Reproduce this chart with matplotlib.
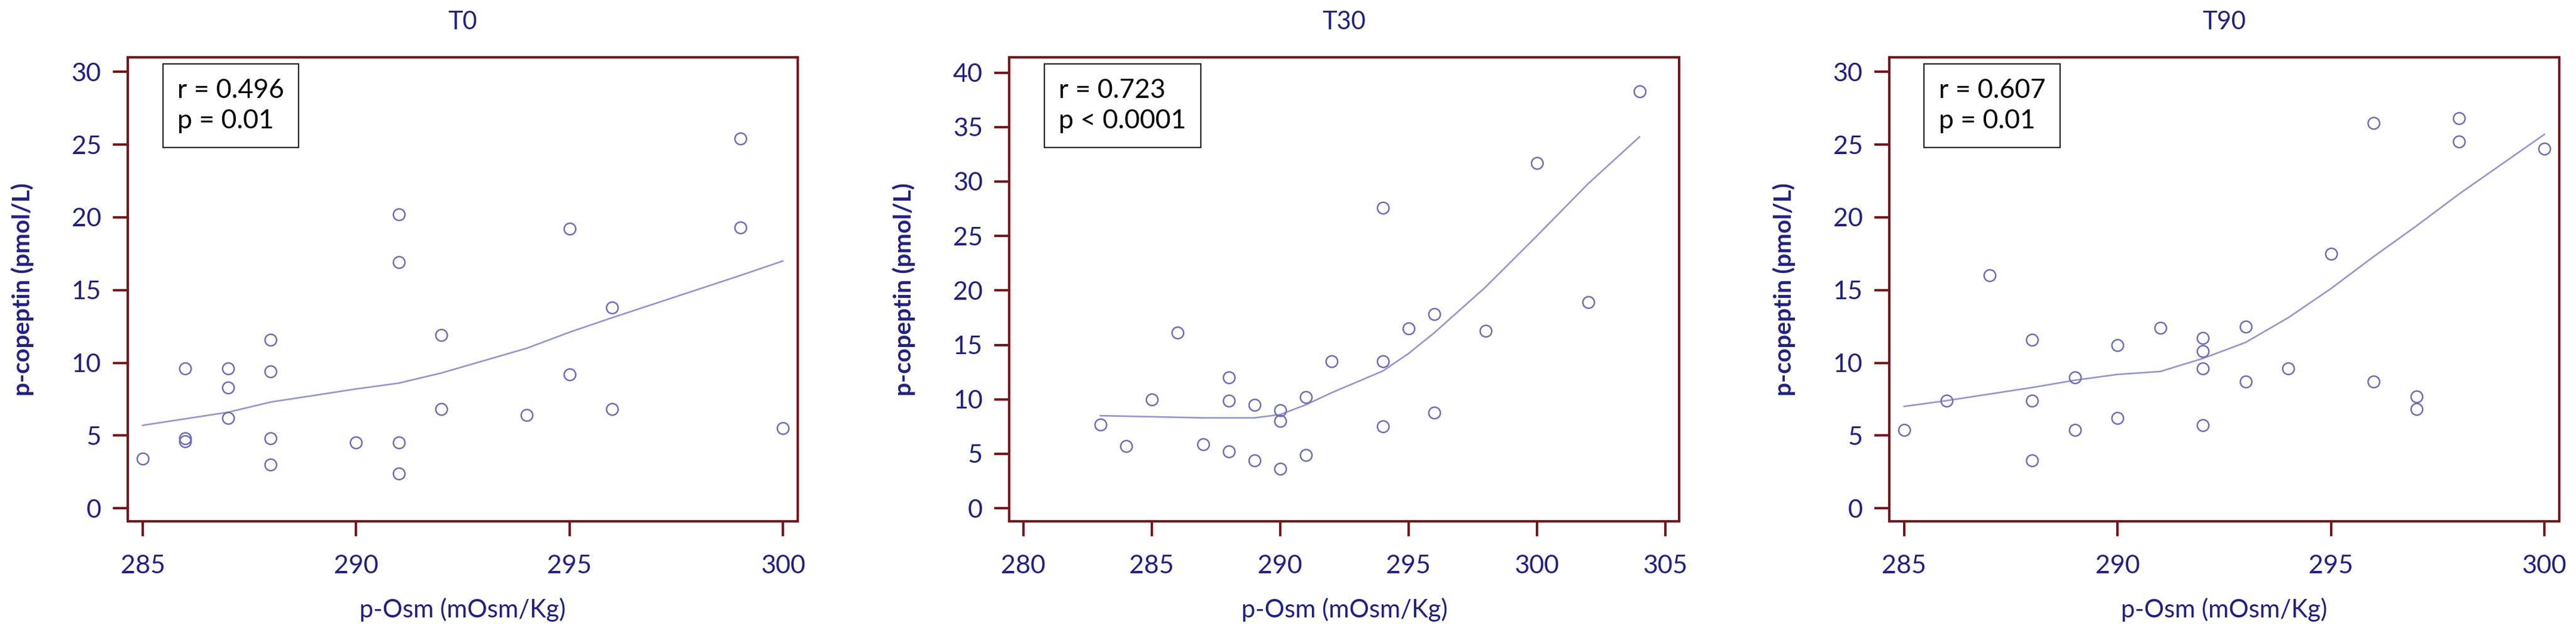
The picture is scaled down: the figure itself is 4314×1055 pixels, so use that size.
import numpy as np
import matplotlib
matplotlib.use("Agg")
import matplotlib.pyplot as plt

plt.rcParams['font.family'] = ['Lato', 'DejaVu Sans']

# ---- data ----
titles = ["T0", "T30", "T90"]
stats_text = ["r = 0.496\np = 0.01", "r = 0.723\np < 0.0001", "r = 0.607\np = 0.01"]

t0_x = [285, 286, 286, 286, 287, 287, 287, 288, 288, 288, 288, 290, 291, 291, 291, 291,
        292, 292, 294, 295, 295, 296, 296, 299, 299, 300]
t0_y = [3.4, 9.6, 4.8, 4.6, 9.6, 8.3, 6.2, 11.6, 9.4, 4.8, 3.0, 4.5, 20.2, 16.9, 4.5, 2.4,
        11.9, 6.8, 6.4, 19.2, 9.2, 13.8, 6.8, 25.4, 19.3, 5.5]
t0_fit_x = [285, 287, 288, 290, 291, 292, 294, 295, 296, 299, 300]
t0_fit_y = [5.7, 6.6, 7.3, 8.2, 8.6, 9.3, 11.0, 12.1, 13.1, 16.0, 17.0]

t30_x = [283, 284, 285, 286, 287, 288, 288, 288, 289, 289, 290, 290, 290, 291, 291,
         292, 294, 294, 294, 295, 296, 296, 298, 300, 302, 304]
t30_y = [7.7, 5.7, 10.0, 16.1, 5.9, 12.0, 9.9, 5.2, 9.5, 4.4, 9.0, 8.0, 3.6, 10.2, 4.9,
         13.5, 27.6, 13.5, 7.5, 16.5, 17.8, 8.8, 16.3, 31.7, 18.9, 38.3]
t30_fit_x = [283, 285, 287, 289, 290, 291, 292, 294, 295, 296, 298, 300, 302, 304]
t30_fit_y = [8.5, 8.4, 8.3, 8.3, 8.6, 9.5, 10.6, 12.6, 14.2, 16.1, 20.3, 25.0, 29.8, 34.1]

t90_x = [285, 286, 287, 288, 288, 288, 289, 289, 290, 290, 291, 292, 292, 292, 292,
         293, 293, 294, 295, 296, 296, 297, 297, 298, 298, 300]
t90_y = [5.4, 7.4, 16.0, 11.6, 7.4, 3.3, 9.0, 5.4, 11.2, 6.2, 12.4, 11.7, 10.8, 9.6, 5.7,
         12.5, 8.7, 9.6, 17.5, 26.5, 8.7, 7.7, 6.8, 26.8, 25.2, 24.7]
t90_fit_x = [285, 286, 288, 289, 290, 291, 292, 293, 294, 295, 296, 297, 298, 300]
t90_fit_y = [7.0, 7.4, 8.3, 8.8, 9.2, 9.4, 10.3, 11.4, 13.1, 15.1, 17.3, 19.4, 21.6, 25.7]

x_ticks = [[285, 290, 295, 300], [280, 285, 290, 295, 300, 305], [285, 290, 295, 300]]
y_ticks = [[0, 5, 10, 15, 20, 25, 30], [0, 5, 10, 15, 20, 25, 30, 35, 40],
           [0, 5, 10, 15, 20, 25, 30]]
x_lims = [(284.65, 300.35), (279.45, 305.55), (284.65, 300.35)]
y_lims = [(-0.9, 31.0), (-1.2, 41.4), (-0.9, 31.0)]

xs = [t0_x, t30_x, t90_x]
ys = [t0_y, t30_y, t90_y]
fxs = [t0_fit_x, t30_fit_x, t90_fit_x]
fys = [t0_fit_y, t30_fit_y, t90_fit_y]

NAVY = "#1f1f8a"
FRAME = "#7d1216"
MARK = "#6b6bc4"
LINE = "#9393d6"

fig = plt.figure(figsize=(43.14, 10.55), dpi=100)
lefts = [0.0496, 0.3918, 0.7334]
for i in range(3):
    ax = fig.add_axes([lefts[i], 0.1725, 0.2601, 0.7365])
    ax.plot(fxs[i], fys[i], color=LINE, lw=1.9, zorder=2)
    ax.plot(xs[i], ys[i], 'o', ms=14, mfc='none', mec=MARK, mew=1.8, zorder=3)
    ax.set_xlim(*x_lims[i])
    ax.set_ylim(*y_lims[i])
    ax.set_xticks(x_ticks[i])
    ax.set_yticks(y_ticks[i])
    for s in ax.spines.values():
        s.set_color(FRAME)
        s.set_linewidth(2.9)
    ax.tick_params(axis='both', direction='out', length=18, width=2.9, color=FRAME,
                   labelcolor=NAVY, labelsize=31)
    ax.tick_params(axis='x', pad=22)
    ax.tick_params(axis='y', pad=14)
    ax.set_title(titles[i], color=NAVY, fontsize=30, pad=34)
    ax.set_xlabel("p-Osm (mOsm/Kg)", color=NAVY, fontsize=30)
    ax.set_ylabel("p-copeptin (pmol/L)", color=NAVY, fontsize=29, fontweight='bold')
    ax.xaxis.set_label_coords(0.5, -0.165)
    ax.yaxis.set_label_coords(-0.14, 0.5)
    ax.text(0.074, 0.955, stats_text[i], transform=ax.transAxes, ha='left', va='top',
            fontsize=32, color='black', linespacing=1.3, zorder=5,
            bbox=dict(boxstyle='square,pad=0.55', fc='white', ec='#222222', lw=1.6))

fig.savefig("out.png", dpi=100)
